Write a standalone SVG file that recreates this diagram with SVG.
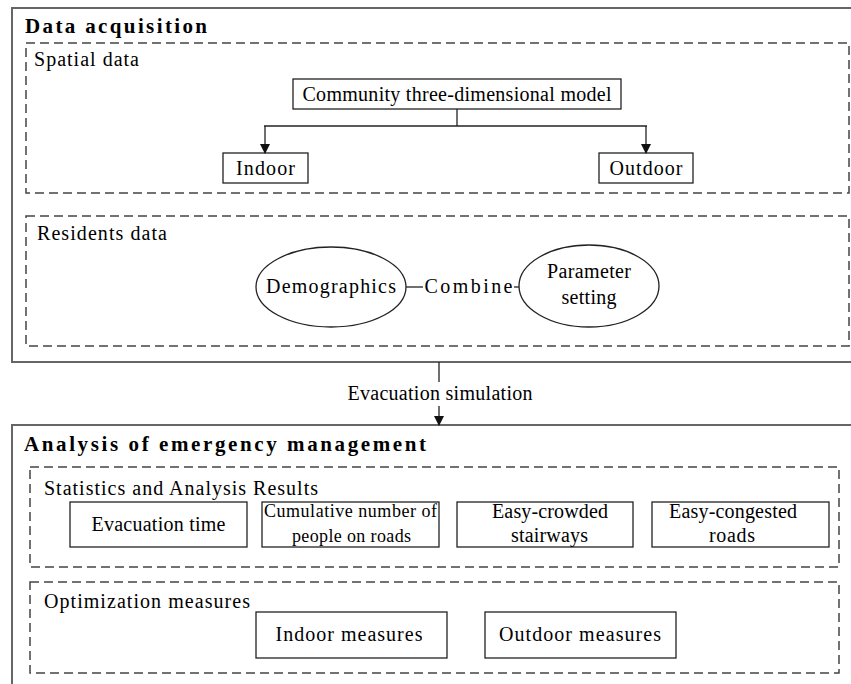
<svg xmlns="http://www.w3.org/2000/svg" width="851" height="684" viewBox="0 0 851 684" font-family="Liberation Serif">
<style>
  .outer { fill: none; stroke: #666; stroke-width: 2; }
  .dash { fill: none; stroke: #444; stroke-width: 1.5; stroke-dasharray: 9 5; }
  .box { fill: #fff; stroke: #222; stroke-width: 1.3; }
  .conn { fill: none; stroke: #222; stroke-width: 1.3; }
</style>
<defs>
  <marker id="arr" markerWidth="10" markerHeight="10" refX="9" refY="5" orient="auto" markerUnits="userSpaceOnUse">
    <path d="M0,0 L10,5 L0,10 Z" fill="#111"/>
  </marker>
</defs>
<rect width="851" height="684" fill="#fff"/>

<g id="data-acquisition">
  <rect class="outer" x="12" y="8" width="850" height="354"/>
  <text font-family="Times New Roman" font-size="21" font-weight="bold" x="25" y="33" textLength="182" lengthAdjust="spacing">Data acquisition</text>
</g>

<g id="spatial-data">
  <rect class="dash" x="26" y="43" width="823" height="150"/>
  <text font-family="Times New Roman" font-size="20" x="34" y="66" textLength="105" lengthAdjust="spacing">Spatial data</text>
</g>

<g id="community-model">
  <rect class="box" x="293" y="79" width="328" height="30"/>
  <text font-family="Times New Roman" font-size="20" x="457" y="101" text-anchor="middle" textLength="309" lengthAdjust="spacing">Community three-dimensional model</text>
</g>

<g id="indoor">
  <rect class="box" x="223" y="153" width="85" height="30"/>
  <text font-family="Times New Roman" font-size="20" x="265.5" y="175" text-anchor="middle" textLength="59" lengthAdjust="spacing">Indoor</text>
</g>

<g id="outdoor">
  <rect class="box" x="599" y="153" width="94" height="30"/>
  <text font-family="Times New Roman" font-size="20" x="646" y="175" text-anchor="middle" textLength="73" lengthAdjust="spacing">Outdoor</text>
</g>

<g id="residents-data">
  <rect class="dash" x="26" y="216" width="823" height="130"/>
  <text font-family="Times New Roman" font-size="20" x="37" y="240" textLength="130" lengthAdjust="spacing">Residents data</text>
</g>

<g id="demographics">
  <ellipse class="box" cx="331" cy="287" rx="75" ry="40"/>
  <text font-family="Times New Roman" font-size="20" x="331" y="293" text-anchor="middle" textLength="130" lengthAdjust="spacing">Demographics</text>
</g>

<g id="parameter-setting">
  <ellipse class="box" cx="589" cy="286" rx="70" ry="41"/>
  <text font-family="Times New Roman" font-size="20" x="589" y="278" text-anchor="middle" textLength="84" lengthAdjust="spacing">Parameter</text>
  <text font-family="Times New Roman" font-size="20" x="589" y="304" text-anchor="middle" textLength="55" lengthAdjust="spacing">setting</text>
</g>

<g id="analysis">
  <rect class="outer" x="12" y="425" width="850" height="270"/>
  <text font-family="Times New Roman" font-size="21" font-weight="bold" x="24" y="451" textLength="402" lengthAdjust="spacing">Analysis of emergency management</text>
</g>

<g id="statistics">
  <rect class="dash" x="30" y="467" width="809" height="100"/>
  <text font-family="Times New Roman" font-size="20" x="44" y="495" textLength="274" lengthAdjust="spacing">Statistics and Analysis Results</text>
</g>

<g id="evacuation-time">
  <rect class="box" x="70" y="502" width="177" height="45"/>
  <text font-family="Times New Roman" font-size="20" x="158.5" y="531" text-anchor="middle" textLength="134" lengthAdjust="spacing">Evacuation time</text>
</g>

<g id="cumulative">
  <rect class="box" x="262" y="502" width="177" height="45"/>
  <text font-family="Times New Roman" font-size="18" x="350.5" y="517" text-anchor="middle" textLength="173" lengthAdjust="spacing">Cumulative number of</text>
  <text font-family="Times New Roman" font-size="18" x="351.5" y="542" text-anchor="middle" textLength="119" lengthAdjust="spacing">people on roads</text>
</g>

<g id="easy-crowded">
  <rect class="box" x="457" y="502" width="176" height="45"/>
  <text font-family="Times New Roman" font-size="20" x="550" y="518" text-anchor="middle" textLength="116" lengthAdjust="spacing">Easy-crowded</text>
  <text font-family="Times New Roman" font-size="20" x="549.5" y="542" text-anchor="middle" textLength="77" lengthAdjust="spacing">stairways</text>
</g>

<g id="easy-congested">
  <rect class="box" x="652" y="502" width="177" height="45"/>
  <text font-family="Times New Roman" font-size="20" x="733" y="518" text-anchor="middle" textLength="128" lengthAdjust="spacing">Easy-congested</text>
  <text font-family="Times New Roman" font-size="20" x="732" y="542" text-anchor="middle" textLength="46" lengthAdjust="spacing">roads</text>
</g>

<g id="optimization">
  <rect class="dash" x="30" y="582" width="809" height="91"/>
  <text font-family="Times New Roman" font-size="20" x="44" y="608" textLength="206" lengthAdjust="spacing">Optimization measures</text>
</g>

<g id="indoor-measures">
  <rect class="box" x="256" y="612" width="191" height="46"/>
  <text font-family="Times New Roman" font-size="20" x="349" y="641" text-anchor="middle" textLength="147" lengthAdjust="spacing">Indoor measures</text>
</g>

<g id="outdoor-measures">
  <rect class="box" x="485" y="612" width="191" height="46"/>
  <text font-family="Times New Roman" font-size="20" x="580" y="641" text-anchor="middle" textLength="162" lengthAdjust="spacing">Outdoor measures</text>
</g>

<g id="connectors">
  <path class="conn" d="M457,109 V126"/>
  <path class="conn" d="M264,126 H647"/>
  <path class="conn" d="M265,126 V153" marker-end="url(#arr)"/>
  <path class="conn" d="M646,126 V153" marker-end="url(#arr)"/>
  <path class="conn" d="M406,287 H423"/>
  <path class="conn" d="M514,287 H519"/>
  <text font-family="Times New Roman" font-size="20" x="468.5" y="293" text-anchor="middle" textLength="88" lengthAdjust="spacing">Combine</text>
  <path class="conn" d="M439,362 V382"/>
  <text font-family="Times New Roman" font-size="20" x="440" y="400" text-anchor="middle" textLength="185" lengthAdjust="spacing">Evacuation simulation</text>
  <path class="conn" d="M439,406 V425" marker-end="url(#arr)"/>
</g>
</svg>
